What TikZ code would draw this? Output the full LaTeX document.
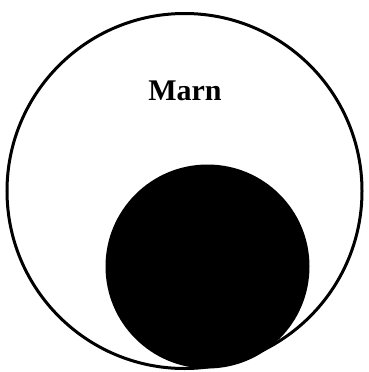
\documentclass[tikz,border=0pt]{standalone}
\usepackage{fontspec}
\setmainfont{Liberation Serif}
\begin{document}
\begin{tikzpicture}[x=1pt,y=-1pt,
  outer/.style={draw=black,line width=3pt,circle,minimum size=355pt,inner sep=0pt},
  inner/.style={fill=black,circle,minimum size=204pt,inner sep=0pt},
  lbl/.style={font=\fontsize{30}{33}\selectfont\bfseries}]
\useasboundingbox (0,0) rectangle (368,372);
\node[outer] (big) at (184.5,191) {};
\node[inner] (small) at (207.5,266.5) {};
\node[lbl] (label) at (185,91) {Marn};
\end{tikzpicture}
\end{document}
